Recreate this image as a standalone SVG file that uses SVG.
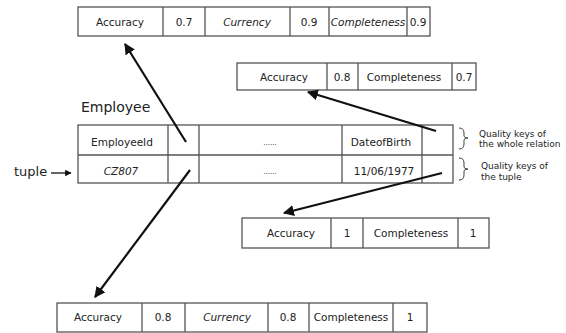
<svg xmlns="http://www.w3.org/2000/svg" width="566" height="333" viewBox="0 0 566 333">
<defs>
<marker id="ah" viewBox="0 0 10 10" refX="9" refY="5" markerWidth="5" markerHeight="5" orient="auto" markerUnits="strokeWidth">
<path d="M0,0 L10,5 L0,10 z" fill="#111"/>
</marker>
<style>
.box{fill:#fff;stroke:#555;stroke-width:1.3}
.ln{stroke:#555;stroke-width:1.3;fill:none}
.t{font-family:"DejaVu Sans",sans-serif;font-size:10.5px;fill:#222;text-anchor:middle}
.i{font-style:italic}
.small{font-family:"DejaVu Sans",sans-serif;font-size:9px;fill:#222}
.big{font-family:"DejaVu Sans",sans-serif;font-size:14px;fill:#222}
.arr{stroke:#111;stroke-width:2.2;fill:none;marker-end:url(#ah)}
.brace{stroke:#444;stroke-width:1;fill:none}
</style>
</defs>
<rect width="566" height="333" fill="#fff"/>

<g id="top-keys">
<rect class="box" x="78" y="7" width="352" height="29"/>
<path class="ln" d="M163,7V36M205,7V36M290,7V36M329,7V36M407,7V36"/>
<text class="t" x="120" y="26">Accuracy</text>
<text class="t" x="184" y="26">0.7</text>
<text class="t i" x="247" y="26">Currency</text>
<text class="t" x="309" y="26">0.9</text>
<text class="t i" x="368" y="26">Completeness</text>
<text class="t" x="418" y="26">0.9</text>
</g>

<g id="relation-keys">
<rect class="box" x="237" y="63" width="239" height="27"/>
<path class="ln" d="M327,63V90M358,63V90M452,63V90"/>
<text class="t" x="284" y="81">Accuracy</text>
<text class="t" x="342" y="81">0.8</text>
<text class="t" x="404" y="81">Completeness</text>
<text class="t" x="464" y="81">0.7</text>
</g>

<g id="employee">
<text class="big" x="81" y="112">Employee</text>
<rect class="box" x="78" y="125" width="375" height="58"/>
<path class="ln" d="M78,155H453M168,125V183M199,125V183M342,125V183M422,125V183"/>
<text class="t" x="122" y="146">EmployeeId</text>
<text class="t i" x="121" y="175">CZ807</text>
<text class="t" x="270" y="145" style="font-size:7px">......</text>
<text class="t" x="270" y="174" style="font-size:7px">......</text>
<text class="t" x="381" y="146">DateofBirth</text>
<text class="t" x="384" y="175">11/06/1977</text>
</g>

<g id="tuple-label">
<text class="big" x="14" y="176" style="font-size:13px">tuple</text>
</g>

<g id="annotations">
<path class="brace" d="M459,128 Q464,128 464,133 L464,136 Q464,138 468,138 Q464,138 464,140 L464,144 Q464,149 459,149"/>
<text class="small" x="479" y="137">Quality keys of</text>
<text class="small" x="479" y="147">the whole relation</text>
<path class="brace" d="M459,158 Q464,158 464,163 L464,167 Q464,169 468,169 Q464,169 464,171 L464,175 Q464,180 459,180"/>
<text class="small" x="481" y="169">Quality keys of</text>
<text class="small" x="481" y="180">the tuple</text>
</g>

<g id="tuple-keys">
<rect class="box" x="242" y="218" width="247" height="30"/>
<path class="ln" d="M331,218V248M363,218V248M458,218V248"/>
<text class="t" x="291" y="237">Accuracy</text>
<text class="t" x="347" y="237">1</text>
<text class="t" x="411" y="237">Completeness</text>
<text class="t" x="473" y="237">1</text>
</g>

<g id="bottom-keys">
<rect class="box" x="57" y="303" width="370" height="29"/>
<path class="ln" d="M142,303V332M185,303V332M268,303V332M309,303V332M393,303V332"/>
<text class="t" x="98" y="321">Accuracy</text>
<text class="t" x="163" y="321">0.8</text>
<text class="t i" x="227" y="321">Currency</text>
<text class="t" x="288" y="321">0.8</text>
<text class="t" x="351" y="321">Completeness</text>
<text class="t" x="410" y="321">1</text>
</g>

<g id="connectors">
<path class="arr" d="M186,142 L125,44"/>
<path class="arr" d="M436,131 L308,92"/>
<path class="arr" d="M442,173 L284,213"/>
<path class="arr" d="M190,170 L95,297"/>
<path d="M51,173 L71,173" stroke="#111" stroke-width="1.3" marker-end="url(#ah)"/>
</g>
</svg>
